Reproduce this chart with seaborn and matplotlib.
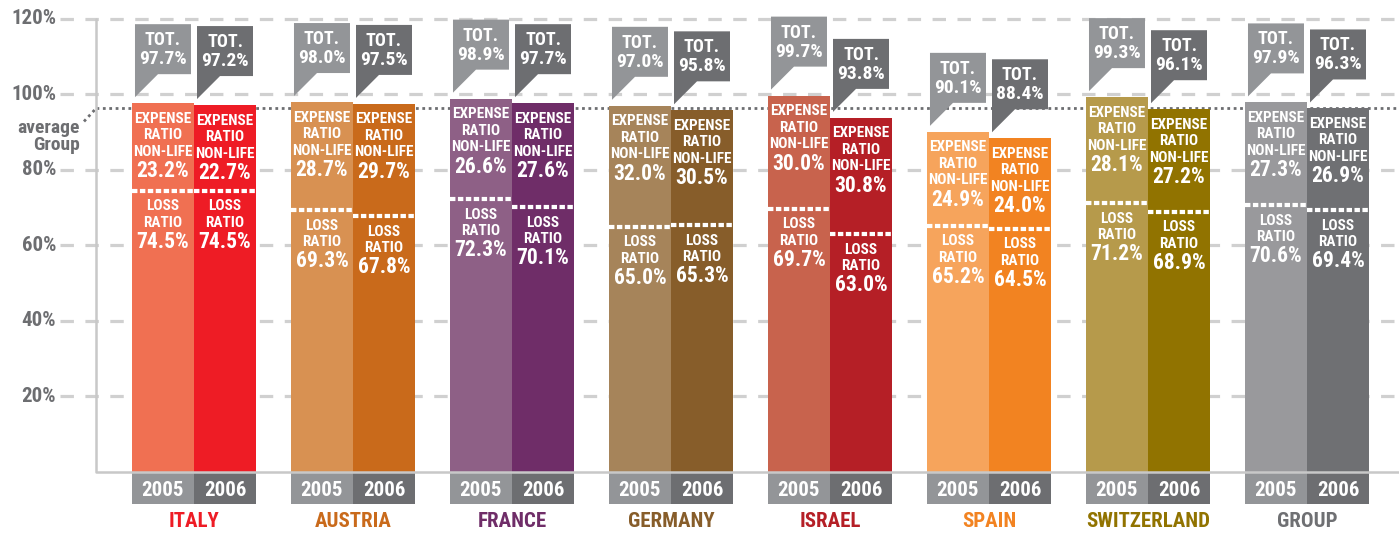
import matplotlib
matplotlib.use("Agg")
import matplotlib.pyplot as plt
from matplotlib.patches import Polygon, Rectangle
import pandas as pd
import seaborn as sns

countries = ["ITALY", "AUSTRIA", "FRANCE", "GERMANY", "ISRAEL", "SPAIN", "SWITZERLAND", "GROUP"]
years = ["2005", "2006"]
total_2005 = [97.7, 98.0, 98.9, 97.0, 99.7, 90.1, 99.3, 97.9]
total_2006 = [97.2, 97.5, 97.7, 95.8, 93.8, 88.4, 96.1, 96.3]
expense_2005 = [23.2, 28.7, 26.6, 32.0, 30.0, 24.9, 28.1, 27.3]
expense_2006 = [22.7, 29.7, 27.6, 30.5, 30.8, 24.0, 27.2, 26.9]
loss_2005 = [74.5, 69.3, 72.3, 65.0, 69.7, 65.2, 71.2, 70.6]
loss_2006 = [74.5, 67.8, 70.1, 65.3, 63.0, 64.5, 68.9, 69.4]
group_average = 96.3
yticks = [20, 40, 60, 80, 100, 120]

colors_2005 = ["#F07052", "#D89152", "#8E6086", "#A6845A", "#C8634D", "#F6A45C", "#B69A4B", "#99999C"]
colors_2006 = ["#EE1C25", "#C96A1B", "#6F2D68", "#875D2A", "#B51F26", "#F28321", "#917300", "#6F7073"]
label_colors = ["#EE1C25", "#C96A1B", "#6F2D68", "#875D2A", "#B51F26", "#F28321", "#917300", "#6F7073"]
grey_light = "#939598"
grey_dark = "#6D6E71"

sns.set_theme(style="white")
plt.rcParams["font.family"] = ["Roboto Condensed", "Roboto", "DejaVu Sans"]
plt.rcParams["font.weight"] = "bold"

df = pd.DataFrame({
    "country": countries * 2,
    "year": [years[0]] * 8 + [years[1]] * 8,
    "total": total_2005 + total_2006,
})

fig = plt.figure(figsize=(13.99, 5.33), dpi=100)
ax = fig.add_axes([0, 0, 1, 1])

sns.barplot(data=df, x="country", y="total", hue="year", width=0.78, gap=0,
            saturation=1, legend=False, ax=ax, zorder=3)

# pixel helpers (for offsets only)
PY = 3.775   # px per % unit
PX = 159.0   # px per category unit

ax.set_xlim((0 - 194) / PX, (1399 - 194) / PX)
ax.set_ylim(-533 / PY + 125.03, 125.03)
ax.axis("off")

# grid lines
x_grid0 = (60 - 194) / PX
for t in yticks:
    ax.plot([x_grid0, 10], [t, t], color="#D0D0D0", lw=2.3,
            dashes=(4.2, 3.6), zorder=0, solid_capstyle="butt")
    ax.text((56 - 194) / PX, t, f"{t}%", ha="right", va="center",
            fontsize=15, color=grey_dark, fontweight="bold")

# axis frame
x_axis = (96 - 194) / PX
ax.plot([x_axis, x_axis, 10], [120, 0, 0], color="#C8C8C8", lw=1.8,
        solid_joinstyle="round", zorder=4)

# average group line
ax.plot([x_axis, 10], [group_average, group_average], color=grey_dark, lw=2,
        dashes=(1, 1.3), zorder=1)
ax.plot([(84 - 194) / PX, x_axis], [group_average - 13 / PY, group_average], color=grey_dark,
        lw=2, dashes=(1, 1.3), zorder=1)
ax.text((80 - 194) / PX, group_average - 20 / PY, "average", ha="right", va="center",
        fontsize=14, color=grey_dark)
ax.text((80 - 194) / PX, group_average - 37 / PY, "Group", ha="right", va="center",
        fontsize=14, color=grey_dark)

series = [(total_2005, expense_2005, loss_2005, colors_2005, grey_light),
          (total_2006, expense_2006, loss_2006, colors_2006, grey_dark)]

for cont, (tot, exp, loss, cols, bub) in zip(ax.containers, series):
    for i, bar in enumerate(cont):
        bar.set_facecolor(cols[i])
        bar.set_edgecolor("none")
        xl = bar.get_x()
        w = bar.get_width()
        xc = xl + w / 2
        v = bar.get_height()

        # white dotted separator at loss ratio
        ax.plot([xl, xl + w], [loss[i], loss[i]], color="white", lw=3,
                dashes=(1.3, 0.6), zorder=5, solid_capstyle="butt")

        # expense block
        ax.text(xc, v - 15.5 / PY, "EXPENSE", ha="center", va="center", color="white",
                fontsize=11, zorder=6)
        ax.text(xc, v - 32 / PY, "RATIO", ha="center", va="center", color="white",
                fontsize=11, zorder=6)
        ax.text(xc, v - 48.5 / PY, "NON-LIFE", ha="center", va="center", color="white",
                fontsize=11, zorder=6)
        ax.text(xc, v - 68 / PY, f"{exp[i]:.1f}%", ha="center", va="center", color="white",
                fontsize=15.5, zorder=6)

        # loss block
        ax.text(xc, loss[i] - 15.5 / PY, "LOSS", ha="center", va="center", color="white",
                fontsize=11, zorder=6)
        ax.text(xc, loss[i] - 32 / PY, "RATIO", ha="center", va="center", color="white",
                fontsize=11, zorder=6)
        ax.text(xc, loss[i] - 51 / PY, f"{loss[i]:.1f}%", ha="center", va="center",
                color="white", fontsize=15.5, zorder=6)

        # speech bubble with total
        L = xl + 3 / PX
        R = xl + 59 / PX
        top = v + 79 / PY
        bot = v + 29 / PY
        tip = v + 6 / PY
        ax.add_patch(Polygon([(L, top), (R, top), (R, bot), (L + 23 / PX, bot), (L, tip)],
                             closed=True, facecolor=bub, edgecolor="none", zorder=6))
        ax.text((L + R) / 2, top - 16 / PY, "TOT.", ha="center", va="center", color="white",
                fontsize=13, zorder=7)
        ax.text((L + R) / 2, top - 35 / PY, f"{tot[i]:.1f}%", ha="center", va="center",
                color="white", fontsize=14, zorder=7)

        # year box below axis
        ax.add_patch(Rectangle((xl, -32 / PY), w, 32 / PY, facecolor=bub,
                               edgecolor="none", zorder=3, clip_on=False))
        ax.text(xc, -19 / PY, years[0] if bub == grey_light else years[1], ha="center",
                va="center", color="white", fontsize=15, zorder=7)

for i, name in enumerate(countries):
    ax.text(i, -50 / PY, name, ha="center", va="center", color=label_colors[i],
            fontsize=15, fontweight="bold")

fig.savefig("out.png", dpi=100)
